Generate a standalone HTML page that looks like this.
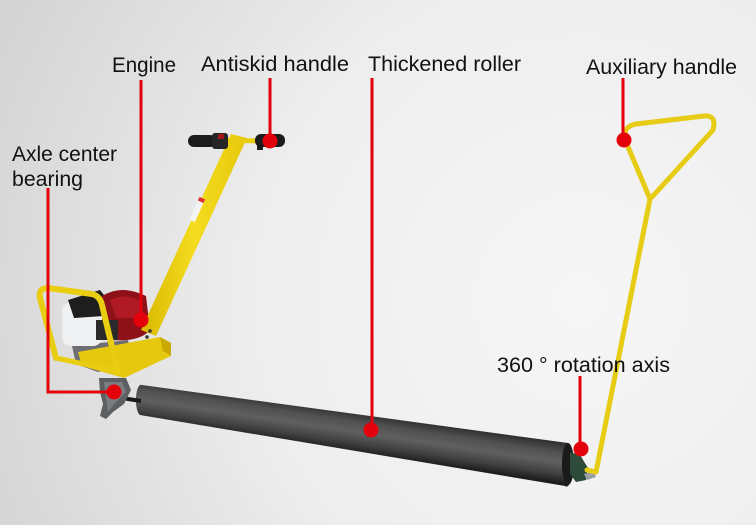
<!DOCTYPE html>
<html><head><meta charset="utf-8"><style>
html,body{margin:0;padding:0;width:756px;height:525px;overflow:hidden;background:#eee}
svg{display:block}
text{font-family:"Liberation Sans",sans-serif;font-size:21px;fill:#111}
</style></head><body>
<svg width="756" height="525" viewBox="0 0 756 525" xmlns="http://www.w3.org/2000/svg">
<defs>
<radialGradient id="bg" cx="580" cy="300" r="640" gradientUnits="userSpaceOnUse">
<stop offset="0" stop-color="#f6f6f6"/><stop offset="0.5" stop-color="#eeeeee"/><stop offset="1" stop-color="#d4d4d4"/>
</radialGradient>
<linearGradient id="rol" gradientUnits="userSpaceOnUse" x1="360" y1="412" x2="354" y2="452">
<stop offset="0" stop-color="#2c2c2c"/><stop offset="0.25" stop-color="#505050"/><stop offset="0.5" stop-color="#606060"/><stop offset="0.8" stop-color="#3e3e3e"/><stop offset="1" stop-color="#1e1e1e"/>
</linearGradient>
<linearGradient id="pole" x1="0" y1="0" x2="1" y2="0">
<stop offset="0" stop-color="#d8b800"/><stop offset="0.5" stop-color="#f5dc20"/><stop offset="1" stop-color="#e6c80c"/>
</linearGradient>
</defs>
<rect width="756" height="525" fill="url(#bg)"/>

<!-- roller -->
<path d="M142,385 L568,443 A6,21.5 0 0 1 565,486 L140,415 A5,15 0 0 1 142,385 Z" fill="url(#rol)"/>
<ellipse cx="568" cy="464" rx="6" ry="21" fill="#1a1a1a"/>
<path d="M570,452 L580,455 L588,468 L586,480 L576,482 L570,474 Z" fill="#2e4a3a"/>
<path d="M584,474 L594,471 L596,477 L587,480 Z" fill="#9aa0a4"/>
<!-- shaft -->
<line x1="122" y1="398" x2="141" y2="401" stroke="#1a1a1a" stroke-width="4"/>

<!-- bearing bracket -->
<path d="M99,378 L126,378 L131,390 L124,404 L113,412 L106,419 L100,416 L103,404 L100,392 Z" fill="#5d6063"/>
<path d="M104,382 L122,382 L126,392 L114,404 L108,412 L106,398 Z" fill="#7a7d80"/>

<!-- engine -->
<path d="M72,346 L128,340 L133,366 L98,372 L76,364 Z" fill="#6d6f72"/>
<rect x="62" y="302" width="40" height="44" rx="9" fill="#eef0f2"/>
<path d="M68,300 L100,290 L108,300 L104,316 L74,318 Z" fill="#1e1e1e"/>
<path d="M102,296 Q122,284 146,296 L150,330 Q140,342 112,340 L102,330 Z" fill="#8e1018"/>
<path d="M110,300 Q126,292 142,302 L144,318 L116,318 Z" fill="#b01a24"/>
<rect x="96" y="320" width="22" height="20" fill="#2a2a2a"/>

<!-- plate -->
<path d="M78,352 L160,337 L171,343 L171,356 L124,378 L82,366 Z" fill="#e6c80e"/>
<path d="M160,337 L171,343 L171,356 L163,351 Z" fill="#c9a800"/>

<!-- frame -->
<path d="M56,358 L40,298 Q38,288 48,288 L92,294 Q100,296 102,305 L118,372" fill="none" stroke="#e9cd10" stroke-width="6" stroke-linecap="round" stroke-linejoin="round"/>
<path d="M56,358 L112,370" fill="none" stroke="#e9cd10" stroke-width="5" stroke-linecap="round"/>

<!-- main pole -->
<path d="M231,134 L247,138 L156,336 L141,330 Z" fill="url(#pole)"/>
<rect x="194" y="198" width="6" height="24" fill="#f4f4f4" transform="rotate(24 197 210)"/>
<rect x="194" y="197" width="6" height="4" fill="#d33" transform="rotate(24 197 210)"/>
<circle cx="150" cy="331" r="1.8" fill="#333"/><circle cx="147" cy="337" r="1.8" fill="#333"/>

<!-- handlebar -->
<line x1="222" y1="140" x2="262" y2="141" stroke="#e9cd10" stroke-width="5"/>
<rect x="188" y="135" width="28" height="12" rx="6" fill="#1c1c1c"/>
<rect x="212" y="133" width="16" height="16" rx="3" fill="#262626"/>
<rect x="218" y="134" width="6" height="5" fill="#a01818"/>
<rect x="255" y="134" width="30" height="13" rx="6" fill="#1c1c1c"/>
<rect x="257" y="141" width="6" height="9" fill="#1c1c1c"/>

<!-- auxiliary handle -->
<path d="M596,472 L650,199" fill="none" stroke="#e6cc14" stroke-width="5" stroke-linecap="round"/>
<path d="M650,199 L626,142 Q621,127 636,124 L704,116 Q717,115 713,130 L652,197" fill="none" stroke="#e6cc14" stroke-width="5" stroke-linejoin="round" stroke-linecap="round"/>
<path d="M596,472 L587,470" stroke="#e6cc14" stroke-width="5" stroke-linecap="round"/>

<!-- callout lines -->
<g stroke="#e3000b" stroke-width="3" fill="none">
<line x1="141" y1="80" x2="141" y2="320"/>
<line x1="270" y1="78" x2="270" y2="141"/>
<line x1="372" y1="78" x2="372" y2="430"/>
<line x1="623" y1="78" x2="623" y2="140"/>
<line x1="580" y1="376" x2="580" y2="449"/>
<polyline points="48,188 48,392 114,392"/>
</g>
<g fill="#e3000b">
<circle cx="141" cy="320" r="7.5"/>
<circle cx="270" cy="141" r="7.5"/>
<circle cx="371" cy="430" r="7.5"/>
<circle cx="624" cy="140" r="7.5"/>
<circle cx="581" cy="449" r="7.5"/>
<circle cx="114" cy="392" r="7.5"/>
</g>

<!-- labels -->
<text x="112" y="72" textLength="64" lengthAdjust="spacingAndGlyphs">Engine</text>
<text x="201" y="71" textLength="148" lengthAdjust="spacingAndGlyphs">Antiskid handle</text>
<text x="368" y="71" textLength="153" lengthAdjust="spacingAndGlyphs">Thickened roller</text>
<text x="586" y="74" textLength="151" lengthAdjust="spacingAndGlyphs">Auxiliary handle</text>
<text x="12" y="161" textLength="105" lengthAdjust="spacingAndGlyphs">Axle center</text>
<text x="12" y="186" textLength="71" lengthAdjust="spacingAndGlyphs">bearing</text>
<text x="497" y="372" textLength="173" lengthAdjust="spacingAndGlyphs">360 ° rotation axis</text>
</svg>
</body></html>
